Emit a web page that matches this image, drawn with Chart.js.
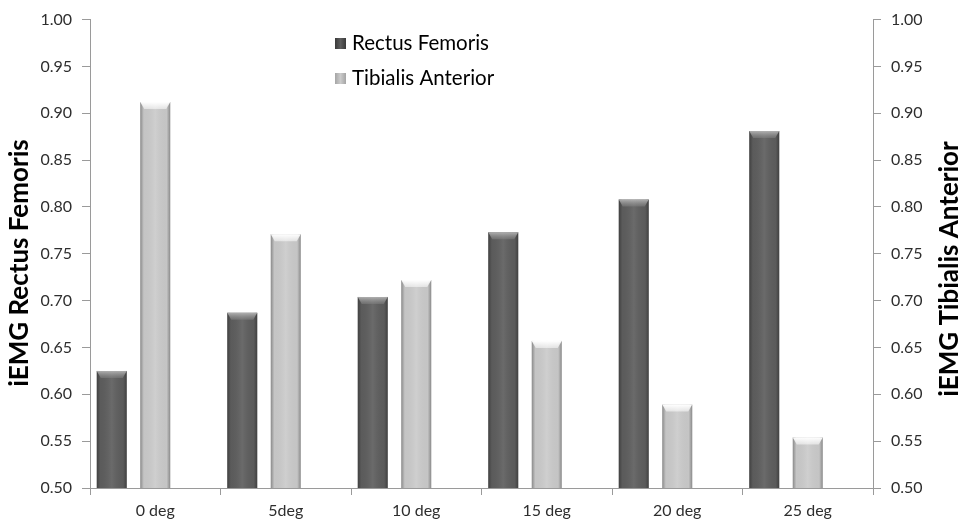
<!DOCTYPE html>
<html>
<head>
<meta charset="utf-8">
<script src="https://cdn.jsdelivr.net/npm/chart.js@4/dist/chart.umd.min.js"></script>
<style>
html,body{margin:0;padding:0;background:#fff;}
#wrap{position:relative;width:961px;height:526px;}
</style>
</head>
<body>
<div id="wrap"><canvas id="c" width="961" height="526"></canvas></div>
<script>
const categories = ['0 deg', '5deg', '10 deg', '15 deg', '20 deg', '25 deg'];
const rectusFemoris = [0.625, 0.687, 0.704, 0.773, 0.808, 0.881];
const tibialisAnterior = [0.912, 0.771, 0.722, 0.657, 0.589, 0.554];
const seriesNames = ['Rectus Femoris', 'Tibialis Anterior'];
const leftTitle = 'iEMG Rectus Femoris';
const rightTitle = 'iEMG Tibialis Anterior';
const axisMin = 0.5, axisMax = 1.0, axisStep = 0.05;

const DARK = '#5e5e5e', LIGHT = '#cbcbcb';
const FONT = 'Lato, "Open Sans", sans-serif';

const bevelPlugin = {
  id: 'bevel',
  afterDatasetDraw(chart, args) {
    if (args.index > 1) return;
    const meta = args.meta;
    const ctx = chart.ctx;
    const ca = chart.chartArea;
    const isLight = args.index === 1;
    ctx.save();
    ctx.beginPath();
    ctx.rect(ca.left, ca.top, ca.right - ca.left, ca.bottom - ca.top);
    ctx.clip();
    meta.data.forEach(el => {
      const {x, y, width} = el.getProps(['x','y','width'], true);
      if (!isFinite(y)) return;
      const base = ca.bottom;
      const l = x - width/2, r = x + width/2;
      const g = ctx.createLinearGradient(l, 0, r, 0);
      g.addColorStop(0, 'rgba(0,0,0,0.32)');
      g.addColorStop(0.12, 'rgba(0,0,0,0.03)');
      g.addColorStop(0.5, 'rgba(255,255,255,0.08)');
      g.addColorStop(0.88, 'rgba(0,0,0,0.03)');
      g.addColorStop(1, 'rgba(0,0,0,0.32)');
      ctx.fillStyle = g;
      ctx.fillRect(l, y, width, base - y);
      const b = 7;
      ctx.beginPath();
      ctx.moveTo(l, y); ctx.lineTo(r, y); ctx.lineTo(r - 4, y + b); ctx.lineTo(l + 4, y + b); ctx.closePath();
      const tg = ctx.createLinearGradient(0, y, 0, y + b);
      if (isLight) { tg.addColorStop(0, 'rgba(255,255,255,1)'); tg.addColorStop(1, 'rgba(255,255,255,0.5)'); }
      else { tg.addColorStop(0, 'rgba(185,185,185,0.9)'); tg.addColorStop(1, 'rgba(130,130,130,0.5)'); }
      ctx.fillStyle = tg;
      ctx.fill();
    });
    ctx.restore();
  }
};

const decorPlugin = {
  id: 'decor',
  afterDraw(chart) {
    const ctx = chart.ctx;
    ctx.save();
    ctx.fillStyle = '#000';
    ctx.font = 'bold 26px ' + FONT;
    ctx.textAlign = 'center';
    ctx.textBaseline = 'middle';
    ctx.save(); ctx.translate(20, 263); ctx.rotate(-Math.PI/2); ctx.fillText(leftTitle, 0, 0); ctx.restore();
    ctx.save(); ctx.translate(950, 269); ctx.rotate(-Math.PI/2); ctx.fillText(rightTitle, 0, 0); ctx.restore();
    const items = [{name: seriesNames[0], c: DARK, e: '#3a3a3a', y: 43}, {name: seriesNames[1], c: LIGHT, e: '#a5a5a5', y: 78}];
    ctx.font = '20.5px ' + FONT;
    ctx.textAlign = 'left';
    items.forEach(it => {
      const g = ctx.createLinearGradient(335, 0, 346, 0);
      g.addColorStop(0, it.e);
      g.addColorStop(0.5, it.c);
      g.addColorStop(1, it.e);
      ctx.fillStyle = g;
      ctx.fillRect(335, it.y - 5, 11, 11);
      ctx.fillStyle = '#000';
      ctx.fillText(it.name, 352, it.y);
    });
    ctx.restore();
  }
};

const yTicks = {
  font: {family: FONT, size: 16},
  color: '#2e2e2e',
  stepSize: axisStep,
  padding: 10,
  callback: v => v.toFixed(2)
};
const yGrid = {display: true, drawOnChartArea: false, tickLength: 8, color: '#9a9a9a'};

new Chart(document.getElementById('c'), {
  type: 'bar',
  data: {
    labels: categories,
    datasets: [
      {label: seriesNames[0], data: rectusFemoris, backgroundColor: DARK, yAxisID: 'y'},
      {label: seriesNames[1], data: tibialisAnterior, backgroundColor: LIGHT, yAxisID: 'y1'},
      {label: '', data: categories.map(() => null), backgroundColor: 'rgba(0,0,0,0)', yAxisID: 'y'}
    ]
  },
  options: {
    responsive: false,
    animation: false,
    devicePixelRatio: 1,
    layout: {padding: {top: 19, left: 0, right: 0, bottom: 0}},
    datasets: {bar: {categoryPercentage: 1.0, barPercentage: 0.69}},
    plugins: {legend: {display: false}, tooltip: {enabled: false}},
    scales: {
      x: {
        grid: {display: true, drawOnChartArea: false, offset: true, tickLength: 7, color: '#9a9a9a'},
        border: {color: '#9a9a9a'},
        ticks: {font: {family: FONT, size: 16}, color: '#2e2e2e', padding: 6},
        afterFit: s => { s.height = 38; }
      },
      y: {
        position: 'left', min: axisMin, max: axisMax,
        ticks: yTicks, grid: yGrid, border: {color: '#9a9a9a'},
        afterFit: s => { s.width = 90; }
      },
      y1: {
        position: 'right', min: axisMin, max: axisMax,
        ticks: yTicks, grid: yGrid, border: {color: '#9a9a9a'},
        afterFit: s => { s.width = 88; }
      }
    }
  },
  plugins: [bevelPlugin, decorPlugin]
});
</script>
</body>
</html>
